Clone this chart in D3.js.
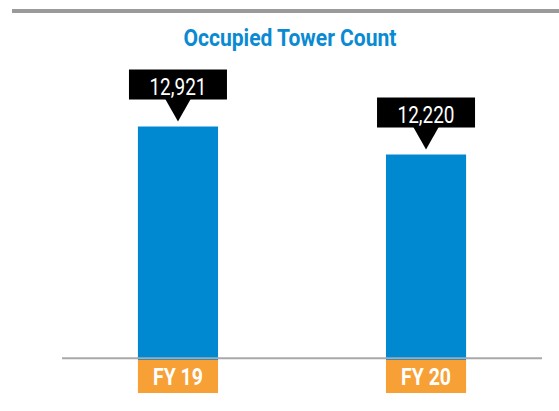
<!DOCTYPE html>
<html><head><meta charset="utf-8">
<script src="https://cdn.jsdelivr.net/npm/d3@7"></script>
<style>body{margin:0;background:#fff}svg{display:block}</style>
</head><body>
<script>
const categories = ["FY 19", "FY 20"];
const values = [12921, 12220];
const valueLabels = ["12,921", "12,220"];
const title = "Occupied Tower Count";

const W = 559, H = 411;
const svg = d3.select("body").append("svg").attr("width", W).attr("height", H);

svg.append("rect").attr("x", 12).attr("y", 9).attr("width", W - 12).attr("height", 4).attr("fill", "#9a9a9c");

svg.append("text").attr("x", 290).attr("y", 46).attr("text-anchor", "middle")
  .attr("font-family", "Roboto, sans-serif").attr("font-weight", "bold").attr("font-size", 23)
  .attr("fill", "#0a8ad2").attr("textLength", 213).attr("lengthAdjust", "spacingAndGlyphs").text(title);

const baseY = 359;
const x = d3.scaleBand().domain(categories).range([62, 542]).paddingInner(0.677).paddingOuter(0.306);
const y = d3.scaleLinear().domain([7100, 13000]).range([baseY, baseY - 5900 * 0.03994]);

const g = svg.append("g");
categories.forEach((c, i) => {
  const bx = x(c), bw = x.bandwidth(), cx = bx + bw / 2, top = y(values[i]);
  g.append("rect").attr("x", bx).attr("y", top).attr("width", bw).attr("height", baseY + 1 - top).attr("fill", "#0088d1");
  // callout
  const boxTop = top - 57, boxH = 30, boxW = 98, tipY = top - 5;
  g.append("rect").attr("x", cx - boxW / 2).attr("y", boxTop).attr("width", boxW).attr("height", boxH).attr("fill", "#000");
  g.append("path").attr("d", `M${cx - 13},${boxTop + boxH - 1}L${cx + 13},${boxTop + boxH - 1}L${cx},${tipY}Z`).attr("fill", "#000");
  g.append("text").attr("x", cx).attr("y", boxTop + 25).attr("text-anchor", "middle")
    .attr("font-family", "Roboto, sans-serif").attr("font-size", 23).attr("fill", "#fff")
    .attr("textLength", 57).attr("lengthAdjust", "spacingAndGlyphs").text(valueLabels[i]);
  // category label
  g.append("rect").attr("x", bx).attr("y", baseY + 1).attr("width", bw).attr("height", 33).attr("fill", "#f7a035");
  g.append("text").attr("x", cx).attr("y", baseY + 26).attr("text-anchor", "middle")
    .attr("font-family", "Roboto, sans-serif").attr("font-weight", "bold").attr("font-size", 24).attr("fill", "#fff")
    .attr("textLength", 50).attr("lengthAdjust", "spacingAndGlyphs").text(c);
});

svg.append("line").attr("x1", 62).attr("x2", 542).attr("y1", 358.3).attr("y2", 358.3)
  .attr("stroke", "#a9a9ab").attr("stroke-width", 2);
</script>
</body></html>
